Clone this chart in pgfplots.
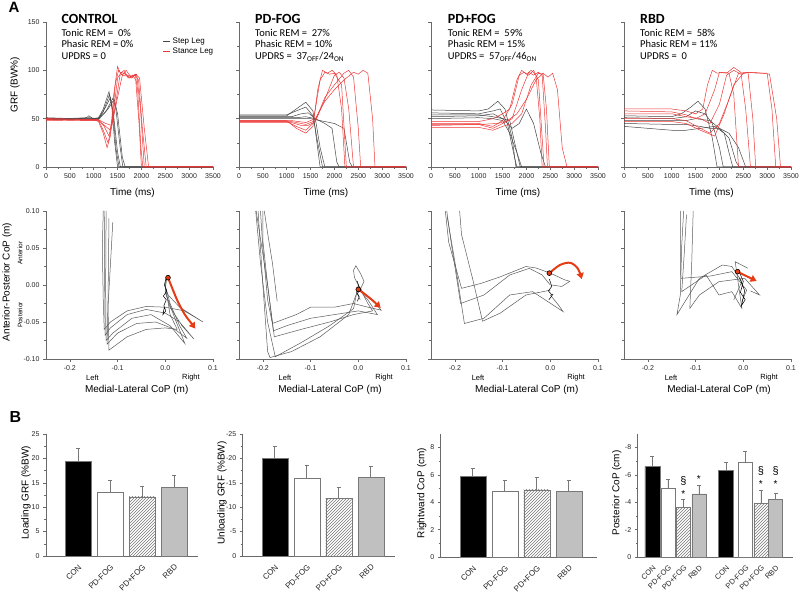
\documentclass[border=0pt]{standalone}
\usepackage{pgfplots}
\pgfplotsset{compat=1.18}
\usetikzlibrary{patterns,arrows.meta}
\usepackage{fontspec}
\setmainfont{Liberation Sans}
\newfontfamily\calfont{Carlito}
\definecolor{axgray}{RGB}{105,105,105}
\definecolor{stepc}{RGB}{70,70,70}
\definecolor{stancec}{RGB}{236,55,55}
\definecolor{copc}{RGB}{90,90,90}
\definecolor{arrowc}{RGB}{230,60,20}
\definecolor{rbdc}{RGB}{192,192,192}
\definecolor{edgec}{RGB}{120,120,120}
\pgfplotsset{
 base/.style={scale only axis, anchor=south west, clip=false,
   axis x line*=bottom, axis y line*=left,
   axis line style={-, draw=axgray, line width=0.6pt},
   tick style={draw=axgray, line width=0.5pt},
   tick align=outside, major tick length=3pt, minor tick length=2pt,
   tick label style={font=\fontsize{7}{8}\selectfont, text=black!85},
   /pgf/number format/assume math mode=true,
   /pgf/number format/1000 sep={}},
 grf/.style={base, width=167pt, height=145pt, xmin=0,xmax=3500,ymin=0,ymax=150,
   xtick={0,500,...,3500}, minor x tick num=1, ytick={0,50,100,150}, minor y tick num=1},
 cop/.style={base, width=167pt, height=148pt, xmin=-0.25, xmax=0.1, ymin=-0.1, ymax=0.1,
   xtick={-0.2,-0.1,0,0.1}, ytick={-0.1,-0.05,0,0.05,0.1}, minor y tick num=1,
   xticklabel style={/pgf/number format/.cd, fixed, fixed zerofill, precision=1},
   yticklabel style={/pgf/number format/.cd, fixed, fixed zerofill, precision=2}},
 bars/.style={base, height=122pt, xmin=0, xtick style={draw=none},
   x tick label style={rotate=45, anchor=north east, font=\fontsize{8}{8}\selectfont}},
 stepl/.style={stepc, line width=0.5pt, forget plot},
 stancel/.style={stancec, line width=0.5pt, forget plot},
 copl/.style={copc, line width=0.5pt},
 arr/.style={arrowc, line width=2pt, smooth, -{Triangle[length=6pt,width=7pt]}},
 dot/.style={only marks, mark=*, mark size=2.4pt, mark options={fill=arrowc, draw=black, line width=0.6pt}},
 ebp/.style={error bars/.cd, y dir=plus, y explicit, error bar style={edgec, line width=0.5pt}},
 ebm/.style={error bars/.cd, y dir=minus, y explicit, error bar style={edgec, line width=0.5pt}},
}
\newcommand{\info}[5]{%
 \node[anchor=base west, font=\calfont\bfseries\fontsize{14}{14}\selectfont] at (#1pt,569pt) {#2};
 \node[anchor=base west, font=\calfont\fontsize{10.5}{11}\selectfont] at (#1pt,556.5pt) {#3};
 \node[anchor=base west, font=\calfont\fontsize{10.5}{11}\selectfont] at (#1pt,545.5pt) {#4};
 \node[anchor=base west, font=\calfont\fontsize{10.5}{11}\selectfont] at (#1pt,533.5pt) {#5};}
\begin{document}
\begin{tikzpicture}[x=1pt,y=1pt]
\path[use as bounding box] (0,0) rectangle (800,593);
% ---------------- GRF row ----------------
\begin{axis}[grf, at={(46pt,426pt)},
  legend style={at={(0.70,0.905)}, anchor=north west, draw=none, fill=none, font=\fontsize{8}{9}\selectfont, inner sep=0pt, row sep=-1pt},
  legend cell align=left,
  legend image code/.code={\draw[#1] (0pt,0pt)--(7pt,0pt);}]
\addplot[stepl] coordinates {(0,50)(400,50)(850,51)(900,53)(980,50)(1100,51)(1200,60)(1320,78)(1380,62)(1440,25)(1500,0)(3500,0)};
\addplot[stepl] coordinates {(0,49)(500,49)(900,51)(1100,50)(1200,57)(1330,75)(1400,58)(1470,18)(1530,0)(3500,0)};
\addplot[stepl] coordinates {(0,51)(600,50)(1100,50)(1250,62)(1350,72)(1420,52)(1500,15)(1560,0)(3500,0)};
\addplot[stepl] coordinates {(0,50)(1100,50)(1250,57)(1400,71)(1460,62)(1550,22)(1610,0)(3500,0)};
\addplot[stepl] coordinates {(0,49)(1100,49)(1300,60)(1430,70)(1500,55)(1600,10)(1660,0)(3500,0)};
\addplot[stancel] coordinates {(0,48)(1000,49)(1100,47)(1200,35)(1280,20)(1350,32)(1420,75)(1500,104)(1560,97)(1640,100)(1720,92)(1820,95)(1880,90)(1950,45)(2000,0)(3500,0)};
\addplot[stancel] coordinates {(0,49)(1100,48)(1200,38)(1300,25)(1380,42)(1450,85)(1520,100)(1600,95)(1680,100)(1780,93)(1870,96)(1920,80)(1990,20)(2030,0)(3500,0)};
\addplot[stancel] coordinates {(0,50)(1100,49)(1220,42)(1320,32)(1420,58)(1500,92)(1580,98)(1700,95)(1820,94)(1900,96)(1980,60)(2060,0)(3500,0)};
\addplot[stancel] coordinates {(0,49)(1100,48)(1250,42)(1350,38)(1450,62)(1550,95)(1650,97)(1750,92)(1870,95)(1940,90)(2020,40)(2100,0)(3500,0)};
\addplot[stancel] coordinates {(0,50)(1100,49)(1250,45)(1380,43)(1500,72)(1600,95)(1700,94)(1800,92)(1880,96)(1960,92)(2060,40)(2150,0)(3500,0)};
\addlegendimage{stepc, line width=0.6pt}\addlegendentry{Step Leg}
\addlegendimage{stancec, line width=0.6pt}\addlegendentry{Stance Leg}
\end{axis}
\begin{axis}[grf, at={(239pt,426pt)}, yticklabel=\empty]
\addplot[stepl] coordinates {(0,53)(1000,53)(1200,60)(1400,67)(1550,58)(1620,30)(1700,0)(3500,0)};
\addplot[stepl] coordinates {(0,54)(1000,54)(1200,58)(1400,62)(1550,53)(1650,25)(1750,0)(3500,0)};
\addplot[stepl] coordinates {(0,52)(1100,52)(1300,55)(1450,56)(1600,50)(1700,20)(1800,0)(3500,0)};
\addplot[stepl] coordinates {(0,51)(1200,51)(1400,52)(1600,50)(1800,45)(1950,40)(2050,5)(2100,0)(3500,0)};
\addplot[stepl] coordinates {(0,50)(1200,50)(1500,50)(1700,48)(2000,45)(2200,40)(2320,5)(2380,0)(3500,0)};
\addplot[stancel] coordinates {(0,48)(1000,48)(1200,40)(1400,35)(1550,42)(1650,80)(1750,100)(1850,97)(1950,100)(2050,95)(2150,60)(2220,0)(3500,0)};
\addplot[stancel] coordinates {(0,47)(1000,47)(1200,42)(1400,38)(1550,45)(1700,90)(1800,98)(1900,96)(2000,97)(2150,85)(2250,0)(3500,0)};
\addplot[stancel] coordinates {(0,46)(1100,46)(1300,43)(1450,43)(1600,47)(1800,70)(2000,95)(2100,98)(2200,92)(2300,60)(2400,0)(3500,0)};
\addplot[stancel] coordinates {(0,47)(1100,47)(1400,44)(1600,48)(1800,72)(2000,85)(2200,97)(2300,100)(2400,93)(2500,40)(2550,0)(3500,0)};
\addplot[stancel] coordinates {(0,48)(1100,48)(1400,46)(1600,50)(1800,68)(2000,80)(2200,90)(2400,98)(2500,96)(2600,100)(2700,97)(2800,50)(2850,0)(3500,0)};
\end{axis}
\begin{axis}[grf, at={(431pt,426pt)}, yticklabel=\empty]
\addplot[stepl] coordinates {(0,59)(1000,58)(1200,60)(1400,68)(1550,60)(1700,30)(1780,0)(3500,0)};
\addplot[stepl] coordinates {(0,56)(1000,55)(1300,58)(1450,60)(1600,45)(1750,10)(1800,0)(3500,0)};
\addplot[stepl] coordinates {(0,54)(1000,54)(1300,52)(1500,50)(1650,48)(1800,15)(1870,0)(3500,0)};
\addplot[stepl] coordinates {(0,52)(1000,53)(1300,55)(1500,50)(1700,40)(1850,45)(2000,60)(2150,45)(2300,15)(2400,0)(3500,0)};
\addplot[stepl] coordinates {(0,50)(1000,51)(1300,50)(1500,48)(1650,35)(1800,15)(1900,0)(3500,0)};
\addplot[stancel] coordinates {(0,47)(1000,47)(1300,50)(1500,55)(1650,60)(1800,90)(1900,100)(2000,96)(2100,100)(2200,95)(2280,50)(2330,0)(3500,0)};
\addplot[stancel] coordinates {(0,45)(1000,45)(1300,42)(1500,48)(1700,65)(1850,95)(1950,98)(2050,95)(2150,100)(2250,90)(2330,30)(2370,0)(3500,0)};
\addplot[stancel] coordinates {(0,43)(1000,44)(1300,40)(1500,45)(1700,50)(1900,80)(2050,98)(2150,95)(2250,98)(2330,95)(2400,40)(2440,0)(3500,0)};
\addplot[stancel] coordinates {(0,41)(1000,41)(1300,38)(1500,42)(1700,45)(1900,55)(2100,85)(2250,97)(2350,96)(2420,60)(2480,0)(3500,0)};
\addplot[stancel] coordinates {(0,44)(1000,44)(1400,45)(1600,48)(1800,55)(2000,70)(2200,90)(2350,97)(2450,93)(2550,97)(2650,80)(2750,20)(2850,0)(3500,0)};
\end{axis}
\begin{axis}[grf, at={(624pt,426pt)}, yticklabel=\empty]
\addplot[stepl] coordinates {(0,53)(1000,52)(1200,55)(1400,62)(1550,68)(1700,60)(1850,30)(1950,0)(3500,0)};
\addplot[stepl] coordinates {(0,51)(1000,50)(1300,52)(1500,58)(1700,55)(1850,45)(2000,20)(2080,0)(3500,0)};
\addplot[stepl] coordinates {(0,48)(1000,48)(1300,48)(1500,50)(1800,48)(2000,40)(2200,30)(2350,5)(2420,0)(3500,0)};
\addplot[stepl] coordinates {(0,45)(1000,44)(1300,44)(1600,42)(1800,40)(2000,40)(2200,35)(2400,20)(2550,0)(3500,0)};
\addplot[stepl] coordinates {(0,42)(1000,38)(1300,38)(1600,40)(1900,42)(2100,35)(2200,15)(2280,0)(3500,0)};
\addplot[stancel] coordinates {(0,60)(1000,60)(1300,58)(1500,55)(1650,60)(1750,85)(1850,100)(1950,97)(2100,98)(2200,97)(2300,75)(2400,0)(3500,0)};
\addplot[stancel] coordinates {(0,58)(1000,57)(1300,54)(1500,50)(1700,55)(1900,80)(2000,98)(2150,97)(2300,103)(2450,98)(2550,60)(2650,0)(3500,0)};
\addplot[stancel] coordinates {(0,55)(1000,55)(1300,52)(1600,50)(1800,45)(2000,65)(2150,95)(2300,100)(2450,96)(2600,98)(2700,50)(2760,0)(3500,0)};
\addplot[stancel] coordinates {(0,50)(1000,50)(1300,48)(1600,40)(1800,35)(2000,45)(2200,70)(2400,97)(2600,98)(2800,97)(3000,97)(3100,60)(3180,0)(3500,0)};
\addplot[stancel] coordinates {(0,47)(1000,47)(1300,45)(1600,38)(1900,32)(2100,55)(2300,85)(2500,97)(2700,98)(2900,97)(3050,96)(3200,50)(3280,0)(3500,0)};
\end{axis}
% ---------------- CoP row ----------------
\begin{axis}[cop, at={(46pt,234pt)}]
\addplot[copl] coordinates {(0.003,0.008)(0.0,-0.005)(0.006,-0.0135)(0.03,-0.03)(0.079,-0.05)(0.04,-0.035)(0.0,-0.03)(-0.04,-0.029)(-0.08,-0.035)(-0.115,-0.05)(-0.128,-0.06)(-0.13,-0.02)(-0.132,0.05)(-0.13,0.1)};
\addplot[copl] coordinates {(0.0,0.005)(0.0,-0.01)(0.01,-0.03)(0.035,-0.055)(0.06,-0.073)(0.03,-0.05)(0.0,-0.038)(-0.04,-0.033)(-0.08,-0.04)(-0.115,-0.058)(-0.126,-0.068)(-0.127,0.0)(-0.128,0.1)};
\addplot[copl] coordinates {(0.0,0.0)(0.003,-0.015)(0.02,-0.045)(0.041,-0.079)(0.01,-0.055)(-0.03,-0.04)(-0.07,-0.045)(-0.11,-0.065)(-0.124,-0.075)(-0.125,0.0)(-0.124,0.1)};
\addplot[copl] coordinates {(0.002,-0.005)(0.01,-0.025)(0.03,-0.055)(0.045,-0.072)(0.02,-0.06)(-0.02,-0.05)(-0.06,-0.052)(-0.1,-0.065)(-0.122,-0.08)(-0.12,-0.02)(-0.118,0.09)};
\addplot[copl] coordinates {(0.0,0.0)(0.01,-0.04)(0.025,-0.06)(0.0,-0.058)(-0.04,-0.06)(-0.08,-0.07)(-0.118,-0.088)(-0.12,-0.03)(-0.11,0.085)};
\addplot[black, line width=0.5pt] coordinates {(0.002,0.01)(-0.002,0.0)(0.003,-0.008)(-0.004,-0.015)(0.002,-0.02)(-0.003,-0.028)(0.001,-0.035)(-0.005,-0.04)(-0.002,-0.03)};
\addplot[arr] coordinates {(0.0057,0.0099)(0.015,-0.005)(0.026,-0.022)(0.041,-0.04)(0.055,-0.052)(0.063,-0.059)};
\addplot[dot] coordinates {(0.0057,0.0099)};
\end{axis}
\begin{axis}[cop, at={(239pt,234pt)}, yticklabel=\empty]
\addplot[copl] coordinates {(0.0,0.0)(0.01,-0.01)(0.03,-0.02)(0.048,-0.034)(0.02,-0.03)(-0.01,-0.025)(-0.05,-0.03)(-0.1,-0.03)(-0.13,-0.04)(-0.18,-0.052)(-0.19,-0.02)(-0.2,0.05)(-0.205,0.1)};
\addplot[copl] coordinates {(0.0,-0.005)(0.02,-0.02)(0.04,-0.04)(0.0,-0.035)(-0.05,-0.04)(-0.1,-0.045)(-0.15,-0.055)(-0.178,-0.062)(-0.19,0.0)(-0.2,0.06)(-0.2,0.1)};
\addplot[copl] coordinates {(0.0,0.0)(0.02,-0.025)(0.03,-0.035)(-0.01,-0.04)(-0.06,-0.05)(-0.12,-0.06)(-0.176,-0.07)(-0.19,0.0)(-0.214,0.1)};
\addplot[copl] coordinates {(0.0,0.0)(-0.01,-0.032)(-0.06,-0.055)(-0.12,-0.078)(-0.174,-0.097)(-0.19,-0.05)(-0.205,0.03)(-0.215,0.1)};
\addplot[copl] coordinates {(0.0,-0.005)(-0.02,-0.04)(-0.08,-0.07)(-0.14,-0.09)(-0.185,-0.098)(-0.19,-0.09)(-0.2,0.0)(-0.21,0.1)};
\addplot[copl] coordinates {(-0.197,0.1)(-0.19,0.07)(-0.18,0.03)(-0.17,-0.022)};
\addplot[copl] coordinates {(0.0,0.0)(-0.008,0.01)(-0.01,0.02)(-0.005,0.026)(0.005,0.015)(0.012,0.005)(0.005,-0.005)(-0.002,-0.012)(0.004,-0.02)};
\addplot[black, line width=0.5pt] coordinates {(-0.002,0.005)(0.002,-0.004)(-0.003,-0.01)(0.002,-0.016)(-0.002,-0.022)};
\addplot[arr] coordinates {(0.0,-0.006)(0.015,-0.013)(0.032,-0.022)(0.047,-0.031)};
\addplot[dot] coordinates {(0.0,-0.006)};
\end{axis}
\begin{axis}[cop, at={(431pt,234pt)}, yticklabel=\empty]
\addplot[copl] coordinates {(0.003,0.0)(0.024,-0.002)(0.041,0.005)(0.03,0.007)(0.0,0.016)(-0.03,0.023)(-0.051,0.025)(-0.105,0.011)(-0.146,0.002)(-0.186,-0.0045)(-0.213,0.058)(-0.22,0.1)};
\addplot[copl] coordinates {(0.0,0.0)(-0.017,0.0135)(-0.044,0.0225)(-0.085,0.0135)(-0.139,-0.0135)(-0.188,-0.025)(-0.207,0.054)(-0.217,0.1)};
\addplot[copl] coordinates {(0.0,-0.007)(-0.051,-0.0135)(-0.105,-0.038)(-0.142,-0.049)(-0.163,0.009)(-0.186,0.068)(-0.19,0.1)};
\addplot[copl] coordinates {(0.0,-0.0135)(0.017,-0.027)(0.027,-0.036)(-0.037,-0.009)(-0.085,-0.0135)(-0.139,-0.045)(-0.18,-0.052)(-0.2,0.0315)(-0.216,0.092)};
\addplot[black, line width=0.5pt] coordinates {(-0.002,0.008)(0.003,-0.002)(-0.004,-0.008)(0.004,-0.014)(-0.003,-0.02)(0.006,-0.012)};
\addplot[arr] coordinates {(-0.002,0.016)(0.02,0.027)(0.042,0.03)(0.058,0.022)(0.066,0.008)};
\addplot[dot] coordinates {(-0.002,0.016)};
\end{axis}
\begin{axis}[cop, at={(624pt,234pt)}, yticklabel=\empty]
\addplot[copl] coordinates {(-0.02,-0.02)(-0.003,0.0045)(-0.024,0.025)(-0.044,0.027)(-0.092,0.009)(-0.139,-0.04)(-0.132,-0.0135)(-0.129,0.054)(-0.125,0.1)};
\addplot[copl] coordinates {(0.015,-0.008)(0.034,-0.0135)(0.003,0.009)(-0.051,0.0045)(-0.092,-0.0135)(-0.112,-0.0315)(-0.108,0.0315)(-0.105,0.1)};
\addplot[copl] coordinates {(0.01,0.0225)(-0.017,0.0315)(-0.003,-0.0315)(-0.024,-0.009)(-0.051,-0.0135)(-0.078,0.0135)(-0.129,-0.009)(-0.124,0.04)(-0.119,0.095)};
\addplot[copl] coordinates {(-0.003,-0.0225)(0.007,-0.007)(-0.024,0.018)(-0.07,0.012)(-0.131,0.009)(-0.132,0.06)(-0.132,0.1)};
\addplot[black, line width=0.5pt] coordinates {(-0.01,0.02)(0.0,0.005)(-0.006,-0.01)(0.004,-0.02)(-0.004,-0.028)(0.003,-0.008)(-0.008,0.01)};
\addplot[arr] coordinates {(-0.012,0.018)(0.005,0.0125)(0.028,0.0054)};
\addplot[dot] coordinates {(-0.012,0.018)};
\end{axis}
% ---------------- Bars ----------------
\begin{axis}[bars, at={(46pt,37pt)}, width=152pt, xmax=4.75, ymin=0, ymax=25, ytick={0,5,...,25}, minor y tick num=1,
  xtick={1,2,3,4}, xticklabels={CON,PD-FOG,PD+FOG,RBD}]
\addplot[ybar, bar width=26pt, bar shift=0pt, fill=black, draw=edgec, ebp] coordinates {(1,19.4) +- (0,2.6)};
\addplot[ybar, bar width=26pt, bar shift=0pt, fill=white, draw=edgec, ebp] coordinates {(2,13.0) +- (0,2.5)};
\addplot[ybar, bar width=26pt, bar shift=0pt, draw=edgec, pattern=north east lines, pattern color=edgec, ebp] coordinates {(3,12.1) +- (0,2.3)};
\addplot[ybar, bar width=26pt, bar shift=0pt, fill=rbdc, draw=edgec, ebp] coordinates {(4,14.2) +- (0,2.3)};
\end{axis}
\begin{axis}[bars, at={(242.7pt,37pt)}, width=152pt, xmax=4.75, ymin=-25, ymax=0, y dir=reverse, ytick={-25,-20,...,0}, minor y tick num=1,
  xtick={1,2,3,4}, xticklabels={CON,PD-FOG,PD+FOG,RBD}]
\addplot[ybar, bar width=26pt, bar shift=0pt, fill=black, draw=edgec, ebm] coordinates {(1,-20.1) +- (0,2.3)};
\addplot[ybar, bar width=26pt, bar shift=0pt, fill=white, draw=edgec, ebm] coordinates {(2,-15.9) +- (0,2.8)};
\addplot[ybar, bar width=26pt, bar shift=0pt, draw=edgec, pattern=north east lines, pattern color=edgec, ebm] coordinates {(3,-11.8) +- (0,2.3)};
\addplot[ybar, bar width=26pt, bar shift=0pt, fill=rbdc, draw=edgec, ebm] coordinates {(4,-16.1) +- (0,2.4)};
\end{axis}
\begin{axis}[bars, at={(440.7pt,36pt)}, height=123.3pt, width=156pt, xmax=4.875, ymin=0, ymax=9, ytick={0,2,...,8}, minor y tick num=1,
  xtick={1,2,3,4}, xticklabels={CON,PD-FOG,PD+FOG,RBD}]
\addplot[ybar, bar width=26pt, bar shift=0pt, fill=black, draw=edgec, ebp] coordinates {(1,5.9) +- (0,0.6)};
\addplot[ybar, bar width=26pt, bar shift=0pt, fill=white, draw=edgec, ebp] coordinates {(2,4.8) +- (0,0.8)};
\addplot[ybar, bar width=26pt, bar shift=0pt, draw=edgec, pattern=north east lines, pattern color=edgec, ebp] coordinates {(3,4.9) +- (0,0.9)};
\addplot[ybar, bar width=26pt, bar shift=0pt, fill=rbdc, draw=edgec, ebp] coordinates {(4,4.8) +- (0,0.8)};
\end{axis}
\begin{axis}[bars, at={(637.7pt,36pt)}, height=123.3pt, width=155pt, xmax=10, ymin=-9, ymax=0, y dir=reverse, ytick={-8,-6,...,0}, minor y tick num=1,
  xtick={0.95,1.95,2.95,3.95,5.7,6.95,7.95,8.9}, xticklabels={CON,PD-FOG,PD+FOG,RBD,CON,PD-FOG,PD+FOG,RBD},
  x tick label style={font=\fontsize{7.5}{7.5}\selectfont}]
\addplot[ybar, bar width=15pt, bar shift=0pt, fill=black, draw=edgec, ebm] coordinates {(0.95,-6.6) +- (0,0.75) (5.7,-6.35) +- (0,0.6)};
\addplot[ybar, bar width=14pt, bar shift=0pt, fill=white, draw=edgec, ebm] coordinates {(1.95,-5.0) +- (0,0.7) (6.95,-6.9) +- (0,0.8)};
\addplot[ybar, bar width=14pt, bar shift=0pt, draw=edgec, pattern=north east lines, pattern color=edgec, ebm] coordinates {(2.95,-3.6) +- (0,0.65) (7.95,-3.9) +- (0,1.0)};
\addplot[ybar, bar width=14pt, bar shift=0pt, fill=rbdc, draw=edgec, ebm] coordinates {(3.95,-4.6) +- (0,0.65) (8.9,-4.2) +- (0,0.45)};
\node[font=\fontsize{11}{11}\selectfont] at (axis cs:2.95,-5.55) {§};
\node[font=\fontsize{10}{10}\selectfont] at (axis cs:2.95,-4.6) {*};
\node[font=\fontsize{10}{10}\selectfont] at (axis cs:3.95,-5.7) {*};
\node[font=\fontsize{11}{11}\selectfont] at (axis cs:7.95,-6.3) {§};
\node[font=\fontsize{10}{10}\selectfont] at (axis cs:7.95,-5.3) {*};
\node[font=\fontsize{11}{11}\selectfont] at (axis cs:8.9,-6.3) {§};
\node[font=\fontsize{10}{10}\selectfont] at (axis cs:8.9,-5.3) {*};
\end{axis}
% ---------------- Texts ----------------
\node[anchor=base west, font=\bfseries\fontsize{15}{15}\selectfont] at (5,580) {A};
\node[anchor=base west, font=\bfseries\fontsize{16}{16}\selectfont] at (6,170) {B};
\info{58}{CONTROL}{Tonic REM =\ \ 0\%}{Phasic REM = 0\%}{UPDRS = 0}
\info{251.7}{PD-FOG}{Tonic REM =\ \ 27\%}{Phasic REM = 10\%}{UPDRS =\ \ 37\textsubscript{OFF}/24\textsubscript{ON}}
\info{444.3}{PD+FOG}{Tonic REM =\ \ 59\%}{Phasic REM = 15\%}{UPDRS =\ \ 57\textsubscript{OFF}/46\textsubscript{ON}}
\info{636.7}{RBD}{Tonic REM =\ \ 58\%}{Phasic REM = 11\%}{UPDRS =\ \ 0}
\node[rotate=90, font=\fontsize{10}{12}\selectfont] at (15,508) {GRF (BW\%)};
\foreach \xx in {132.5,326,518,711.5} {\node[font=\fontsize{10}{12}\selectfont] at (\xx,400) {Time (ms)};}
\node[rotate=90, font=\fontsize{10}{12}\selectfont] at (7,311) {Anterior-Posterior CoP (m)};
\node[rotate=90, font=\fontsize{6.5}{7}\selectfont] at (20,340) {Anterior};
\node[rotate=90, font=\fontsize{6.5}{7}\selectfont] at (20,278) {Posterior};
\foreach \xx in {92.5,285,478,671} {\node[font=\fontsize{7.5}{8}\selectfont] at (\xx,215) {Left};}
\foreach \xx in {191,384,576,769} {\node[font=\fontsize{7.5}{8}\selectfont] at (\xx,215) {Right};}
\foreach \xx in {136.7,330,526.7,719} {\node[font=\fontsize{10}{12}\selectfont] at (\xx,203) {Medial-Lateral CoP (m)};}
\node[rotate=90, font=\fontsize{10}{12}\selectfont] at (26,100) {Loading GRF (\%BW)};
\node[rotate=90, font=\fontsize{10}{12}\selectfont] at (222,100) {Unloading GRF (\%BW)};
\node[rotate=90, font=\fontsize{10}{12}\selectfont] at (421.7,100) {Rightward CoP (cm)};
\node[rotate=90, font=\fontsize{10}{12}\selectfont] at (616.7,100) {Posterior CoP (cm)};
\end{tikzpicture}
\end{document}
